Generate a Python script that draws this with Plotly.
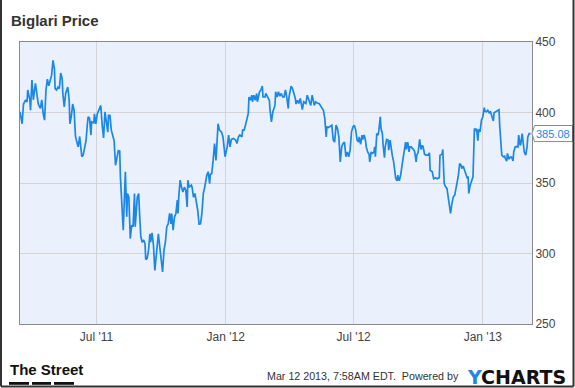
import pandas as pd
import plotly.graph_objects as go

# ---- data ----
start_date = "2011-03-14"
end_date = "2013-03-12"
days = [0,3,5,8,10,11,14,15,17,19,22,24,26,29,31,33,35,37,39,41,44,45,47,49,50,52,54,56,58,60,61,63,65,68,70,71,73,75,77,79,82,83,85,87,88,90,92,94,96,97,99,101,102,105,106,108,110,112,115,117,119,121,123,125,126,128,130,132,134,136,138,140,142,143,
        147,149,150,152,153,155,157,159,161,163,164,167,169,170,172,174,176,178,179,181,183,185,186,188,190,192,195,197,199,201,203,205,207,209,211,213,215,216,218,220,222,224,225,226,228,230,232,234,236,238,239,241,244,245,247,249,251,253,255,257,259,261,263,264,266,268,270,271,273,275,277,279,281,282,284,287,289,291,292,
        295,297,299,301,304,307,309,311,313,316,317,319,321,323,325,326,328,330,331,333,335,337,338,341,343,345,346,349,350,353,355,356,358,360,363,364,366,368,370,372,374,376,378,380,382,383,386,388,390,392,393,395,397,399,400,402,404,407,409,410,412,414,416,418,419,421,424,426,428,430,432,434,436,437,439,
        442,444,446,448,450,452,454,456,458,460,462,464,466,468,470,472,474,476,478,480,482,483,485,487,488,490,492,493,495,497,498,500,502,504,505,506,508,510,511,513,514,516,517,519,520,522,524,525,527,529,530,532,534,535,537,538,540,542,544,546,547,549,550,552,554,555,557,559,561,562,564,565,567,569,571,573,574,576,578,581,583,584,
        587,589,592,594,597,598,601,602,604,606,608,610,611,613,615,617,619,620,622,624,626,628,629,631,633,635,637,638,639,641,643,645,647,649,650,652,653,655,657,659,661,662,664,666,668,670,672,674,675,677,680,682,683,685,686,688,690,691,693,694,696,698,700,702,703,705,707,709,710,712,713,715,716,718,720,722,723,725,727]
prices = [400.5,392,406,409,407.5,416,409,401.6,423,409,420.6,411,406,403,409,399,394.6,416,423.6,419,424,426.5,437,431,417,416,418,417,428,424,413.5,404,413.5,418,409,392,397,406,401.6,383,377,375.6,383,373,368.6,370,375.6,380,392,397,396,384,393.4,392.7,399,392,399,401.6,405,391,382,400.5,393.4,386,398,398,387.5,384,380,362.6,368.6,373,372.6,354,
          316.5,356.7,358,326,342.6,340,310.6,320,319,342.6,319,340,342.6,330.7,312,308,309.6,307,295.7,296.5,302.4,314,308,314.7,306,288,302.4,314,304.7,293,287,302.4,308,319,321,328.4,321,328.4,316.5,326,328.4,337.8,328.4,340,352,347,343.7,347,345,333,352,347,348.5,347,340,342.6,336.6,330.7,320.8,321,328.4,342.6,347,350.8,355.6,358,349.6,356,356.7,366,378,366,382.7,392,387.5,386,382.7,374.5,368.6,
          375.6,384,375.6,380.9,381.6,380.4,378,382.7,384,382.7,387.5,387.5,391,395.7,399.3,411,408.7,412.3,407.6,412.3,408.7,413.5,407.6,414.7,416,418.7,411,411,413.5,410.6,408.7,401.6,393.4,400.5,405,414.7,411,414.7,411.6,413.5,411,411,416,410,402.8,411,418.7,417,413.5,410,406,408.7,406.4,410,407.6,402,407.6,406.4,412.3,411,408.3,405,412.3,408.7,405,407.6,406.4,406.4,405,402.8,401.6,395.7,382.7,389.8,389.4,
          390.3,391,380.4,379,391,388.6,382.7,365,375.6,378,379,368.6,372,368.6,373.3,386.3,389.8,391,387.5,380.4,379,382.7,377.5,384,380.9,384,380,375.6,372,370.4,365,372,371,372,375.6,368.6,385,384,387.5,397,388.6,385,376.8,368,375.6,380.9,380.4,373.3,380.4,372,369.7,365,359,353.2,351.5,355.6,351.5,355.6,362.6,369.7,372,379,373.8,379,372,375.6,375.6,374.5,373.3,372,365,369.7,372,380.9,373.8,376.8,375.6,370.4,369.7,369.7,371.4,359,
          358,353,353.7,353,353.7,369.7,370.4,373.8,349.6,347.3,346,339,335.5,328.4,335.5,340.2,341.4,343.7,348.5,354.8,363.8,362.6,360.3,362,359,355.6,353.2,354.8,342.6,348.5,352,354.4,388.6,387.5,388.6,380,388,386.3,394.6,397,403.5,401,400.5,401.6,399.8,400.5,397,394,399.8,400.5,401.6,402,391,375.6,369.7,368.6,369,367.4,365.5,371,366.9,368.3,368.3,365.7,372,375.6,376,375.6,384,376.8,377.5,385,380.4,372,369.7,375.6,382.7,385,385.08]
y_ticks = [250, 300, 350, 400, 450]

title_text = "Biglari Price"
stamp_text = "Mar 12 2013, 7:58AM EDT.  Powered by"

dates = pd.Timestamp(start_date) + pd.to_timedelta(days, unit="D")
last_val = prices[-1]

BLUE = "#1b87e6"
fig = go.Figure()
fig.add_trace(go.Scatter(x=dates, y=prices, mode="lines",
                         line=dict(color=BLUE, width=1.7), hoverinfo="skip",
                         showlegend=False))

fig.update_layout(
    width=575, height=388,
    margin=dict(l=20, r=43, t=42, b=64),
    paper_bgcolor="white", plot_bgcolor="#eaf1fc",
    font=dict(family="Liberation Sans, Arial, sans-serif", color="#444", size=12),
    title=dict(text="<b>" + title_text + "</b>", x=11/575, xanchor="left",
               y=1 - 20.5/388, yanchor="middle", font=dict(size=15, color="#333")),
    xaxis=dict(type="date", range=[start_date, end_date], dtick="M6", tick0="2011-01-01",
               tickformat="%b '%y", showgrid=True, gridcolor="#d4d4d4", gridwidth=1,
               showline=True, mirror=True, linecolor="#8a8a8a", linewidth=1,
               ticks="outside", ticklen=2, tickcolor="rgba(0,0,0,0)",
               tickfont=dict(size=12, color="#444"), zeroline=False),
    yaxis=dict(range=[250, 450], tickvals=y_ticks, side="right", showgrid=True,
               gridcolor="#d4d4d4", gridwidth=1, showline=True, mirror=True,
               linecolor="#8a8a8a", linewidth=1, ticks="",
               tickfont=dict(size=12, color="#444"), zeroline=False),
)

# last value tag
half = 5.7
fig.add_shape(type="path", xref="paper", yref="y",
              path=f"M 1.0,{last_val} L 1.005,{last_val+half} L 1.079,{last_val+half} "
                   f"L 1.079,{last_val-half} L 1.005,{last_val-half} Z",
              fillcolor="white", line=dict(color="#8a8a8a", width=1), layer="above")
fig.add_annotation(x=1.0065, xref="paper", y=last_val, yref="y", text=f"{last_val:.2f}",
                   showarrow=False, xanchor="left", yanchor="middle", borderpad=0,
                   font=dict(size=11, color=BLUE))

# footer
fig.add_annotation(x=(8-20)/512, xref="paper", y=(324-369)/282, yref="paper",
                   text="<b>The Street</b>", showarrow=False, xanchor="left", yanchor="middle",
                   font=dict(family="Liberation Sans, Arial, sans-serif", size=15, color="#111"))
for x0, x1 in [(9, 29), (32, 51), (54, 74)]:
    fig.add_shape(type="rect", xref="paper", yref="paper",
                  x0=(x0-20)/512, x1=(x1-20)/512, y0=(324-382)/282, y1=(324-384.8)/282,
                  fillcolor="#111", line=dict(width=0))
fig.add_annotation(x=(461-20)/512, xref="paper", y=(324-375.5)/282, yref="paper",
                   text=stamp_text, showarrow=False, xanchor="right", yanchor="middle",
                   font=dict(size=10.7, color="#333"))
fig.add_annotation(x=(465-20)/512, xref="paper", y=(324-377)/282, yref="paper",
                   text="<span style='color:#1b87e6'>Y</span>CHARTS", showarrow=False,
                   xanchor="left", yanchor="middle",
                   font=dict(family="DejaVu Sans, sans-serif", size=19, color="#111", weight="bold"))

# outer frame (left, right, bottom)
L, R, B, T = (1-20)/512, (573.5-20)/512, (324-386.5)/282, (324+2)/282
for xa, ya, xb, yb in [(L, B, L, T), (R, B, R, T), (L, B, R, B)]:
    fig.add_shape(type="line", xref="paper", yref="paper", x0=xa, y0=ya, x1=xb, y1=yb,
                  line=dict(color="#333", width=2))

fig.write_html("out.html")
